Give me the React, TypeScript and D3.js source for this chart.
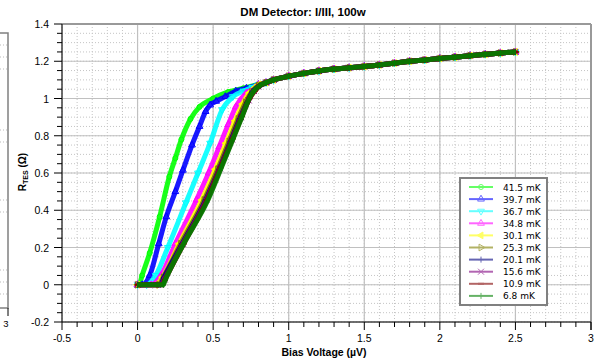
import { useMemo } from 'react';
import * as d3 from 'd3';

type Pt = [number, number];

// superconducting-to-normal transitions (V in µV, R in Ω)
const t41_5: Pt[] = [[0, 0], [0.01, 0], [0.03, 0.05], [0.08, 0.17], [0.146, 0.365], [0.21, 0.58], [0.25, 0.68], [0.29, 0.78], [0.35, 0.89], [0.41, 0.955], [0.5, 1.0], [0.6, 1.035], [0.7, 1.055], [0.8, 1.075]];
const t39_7: Pt[] = [[0, 0], [0.03, 0], [0.08, 0.05], [0.14, 0.22], [0.19, 0.365], [0.25, 0.5], [0.3, 0.615], [0.36, 0.75], [0.41, 0.85], [0.45, 0.93], [0.48, 0.965], [0.52, 0.985], [0.58, 1.01], [0.65, 1.04], [0.72, 1.055], [0.8, 1.075]];
const t36_7: Pt[] = [[0, 0], [0.06, 0], [0.12, 0.05], [0.2, 0.2], [0.32, 0.44], [0.4, 0.6], [0.48, 0.76], [0.56, 0.94], [0.63, 1.01], [0.7, 1.04], [0.76, 1.06], [0.8, 1.075]];
const t34_8: Pt[] = [[0, 0], [0.09, 0], [0.155, 0.05], [0.25, 0.22], [0.39, 0.455], [0.47, 0.6], [0.54, 0.74], [0.6, 0.86], [0.65, 0.955], [0.72, 1.03], [0.78, 1.06], [0.8, 1.075]];
const t30_1: Pt[] = [[0, 0], [0.12, 0], [0.165, 0.04], [0.275, 0.22], [0.425, 0.455], [0.515, 0.62], [0.585, 0.76], [0.645, 0.88], [0.695, 0.97], [0.74, 1.03], [0.78, 1.06], [0.8, 1.075]];
const t25_3: Pt[] = [[0, 0], [0.14, 0], [0.17, 0.04], [0.285, 0.22], [0.44, 0.455], [0.53, 0.62], [0.605, 0.77], [0.665, 0.89], [0.715, 0.98], [0.755, 1.035], [0.8, 1.07]];
const t20_1: Pt[] = [[0, 0], [0.15, 0], [0.175, 0.04], [0.295, 0.22], [0.45, 0.455], [0.54, 0.62], [0.615, 0.77], [0.675, 0.89], [0.725, 0.98], [0.76, 1.035], [0.8, 1.065]];
const t15_6: Pt[] = [[0, 0], [0.155, 0], [0.178, 0.03], [0.3, 0.22], [0.455, 0.455], [0.545, 0.625], [0.625, 0.78], [0.685, 0.9], [0.735, 0.99], [0.77, 1.04], [0.8, 1.065]];
const t10_9: Pt[] = [[0, 0], [0.165, 0], [0.18, 0.025], [0.305, 0.22], [0.46, 0.455], [0.55, 0.63], [0.63, 0.785], [0.69, 0.905], [0.74, 1.0], [0.775, 1.04], [0.81, 1.07]];
const t6_8: Pt[] = [[0, 0], [0.17, 0], [0.18, 0.02], [0.305, 0.22], [0.465, 0.455], [0.555, 0.63], [0.635, 0.79], [0.695, 0.91], [0.745, 1.01], [0.775, 1.045], [0.81, 1.07]];

// normal branch, all temperatures lie on top of each other here
const normalBranch: Pt[] = [[0.85, 1.085], [0.9, 1.1], [1.0, 1.12], [1.1, 1.135], [1.2, 1.148], [1.3, 1.158], [1.4, 1.165], [1.5, 1.172], [1.6, 1.18], [1.7, 1.19], [1.8, 1.2], [1.9, 1.207], [2.0, 1.215], [2.1, 1.222], [2.2, 1.23], [2.3, 1.237], [2.4, 1.244], [2.5, 1.25]];

const temps = ['41.5 mK', '39.7 mK', '36.7 mK', '34.8 mK', '30.1 mK', '25.3 mK', '20.1 mK', '15.6 mK', '10.9 mK', '6.8 mK'];
const transitions = [t41_5, t39_7, t36_7, t34_8, t30_1, t25_3, t20_1, t15_6, t10_9, t6_8];
const colors = ['#00ff00', '#0000ff', '#00ffff', '#ff00ff', '#ffff00', '#808000', '#000080', '#800080', '#800000', '#008000'];
const markers = ['circle', 'triUp', 'triDown', 'triUp', 'triLeft', 'triRight', 'plus', 'cross', 'dash', 'vbar'];

const xTicks = [-0.5, 0, 0.5, 1, 1.5, 2, 2.5, 3];
const yTicks = [-0.2, 0, 0.2, 0.4, 0.6, 0.8, 1, 1.2, 1.4];

const W = 599;
const H = 361;
const M = { left: 62, right: 591, top: 24, bottom: 322 };

function Marker({ kind, x, y, color, s = 3 }: { kind: string; x: number; y: number; color: string; s?: number }) {
  const tri = d3.symbol(d3.symbolTriangle, s * s * 2.2)() as string;
  const common = { stroke: color, strokeWidth: 1 };
  switch (kind) {
    case 'circle':
      return <circle cx={x} cy={y} r={s - 0.5} fill="none" {...common} />;
    case 'triUp':
      return <path d={tri} transform={`translate(${x},${y})`} fill="none" {...common} />;
    case 'triDown':
      return <path d={tri} transform={`translate(${x},${y}) rotate(180)`} fill="none" {...common} />;
    case 'triLeft':
      return <path d={tri} transform={`translate(${x},${y}) rotate(-90)`} fill={color} {...common} />;
    case 'triRight':
      return <path d={tri} transform={`translate(${x},${y}) rotate(90)`} fill="none" {...common} />;
    case 'plus':
      return <path d={`M${x - s},${y}H${x + s}M${x},${y - s}V${y + s}`} fill="none" {...common} />;
    case 'cross':
      return <path d={`M${x - s},${y - s}L${x + s},${y + s}M${x - s},${y + s}L${x + s},${y - s}`} fill="none" {...common} />;
    case 'dash':
      return <path d={`M${x - s},${y}H${x + s}`} fill="none" stroke={color} strokeWidth={2} />;
    default:
      return <path d={`M${x},${y - s}V${y + s}`} fill="none" {...common} />;
  }
}

export default function App() {
  const x = d3.scaleLinear().domain([-0.5, 3]).range([M.left, M.right]);
  const y = d3.scaleLinear().domain([-0.2, 1.4]).range([M.bottom, M.top]);

  const series = useMemo(
    () => transitions.map((t, i) => ({ name: temps[i], color: colors[i], marker: markers[i], pts: [...t, ...normalBranch] })),
    [],
  );

  const line = d3
    .line<Pt>()
    .x((d) => x(d[0]))
    .y((d) => y(d[1]))
    .curve(d3.curveMonotoneX);

  const xMinor = d3.range(-5, 31).map((i) => i / 10);
  const yMinor = d3.range(-4, 29).map((i) => i / 20);

  const legX = 460;
  const legY = 178;
  const rowH = 12.1;

  return (
    <svg width={W} height={H} style={{ position: 'absolute', left: 0, top: 0, background: '#fff' }}>
      {/* neighbouring panel edge on the left */}
      <g>
        <path d="M0,33H8V308H0" fill="none" stroke="#808080" strokeWidth={1.5} />
        <path d="M8,308V316" stroke="#000" />
        {[45, 57, 69, 130, 142, 200, 212, 270, 282, 294].map((gy) => (
          <line key={gy} x1={0} x2={7} y1={gy} y2={gy} stroke="#bbb" strokeDasharray="1,2" />
        ))}
        <text x={6} y={327} fontFamily="Liberation Sans, Arial" fontSize={9.5} textAnchor="middle">3</text>
      </g>

      {/* minor grid */}
      {xMinor.map((v) => (
        <line key={'xm' + v} x1={x(v)} x2={x(v)} y1={M.top} y2={M.bottom} stroke="#c4c4c4" strokeDasharray="1,2" />
      ))}
      {yMinor.map((v) => (
        <line key={'ym' + v} x1={M.left} x2={M.right} y1={y(v)} y2={y(v)} stroke="#c4c4c4" strokeDasharray="1,2" />
      ))}
      {/* major grid */}
      {xTicks.map((v) => (
        <line key={'xg' + v} x1={x(v)} x2={x(v)} y1={M.top} y2={M.bottom} stroke="#c0c0c0" strokeWidth={1.2} />
      ))}
      {yTicks.map((v) => (
        <line key={'yg' + v} x1={M.left} x2={M.right} y1={y(v)} y2={y(v)} stroke="#c0c0c0" strokeWidth={1.2} />
      ))}

      {/* frame */}
      <line x1={M.left} x2={M.right} y1={M.top} y2={M.top} stroke="#999" strokeWidth={2} />
      <line x1={M.right} x2={M.right} y1={M.top} y2={M.bottom} stroke="#999" strokeWidth={2} />

      {/* data */}
      {series.map((s) => (
        <g key={s.name}>
          <path d={line(s.pts) ?? ''} fill="none" stroke={s.color} strokeWidth={5} strokeOpacity={0.9} />
          {s.pts.map((p, j) => (
            <Marker key={j} kind={s.marker} x={x(p[0])} y={y(p[1])} color={s.color} s={3} />
          ))}
        </g>
      ))}

      {/* axes */}
      <line x1={M.left} x2={M.left} y1={M.top} y2={M.bottom} stroke="#000" />
      <line x1={M.left} x2={M.right} y1={M.bottom} y2={M.bottom} stroke="#000" />
      {yMinor.map((v) => (
        <line key={'yt' + v} x1={M.left - (yTicks.some((t) => Math.abs(t - v) < 1e-9) ? 8 : 5)} x2={M.left} y1={y(v)} y2={y(v)} stroke="#000" />
      ))}
      {xMinor.map((v) => (
        <line key={'xt' + v} x1={x(v)} x2={x(v)} y1={M.bottom} y2={M.bottom + (xTicks.some((t) => Math.abs(t - v) < 1e-9) ? 8 : 5)} stroke="#000" />
      ))}
      <line x1={x(3)} x2={x(3)} y1={M.bottom} y2={M.bottom + 8} stroke="#000" />
      <g fontFamily="Liberation Sans, Arial, sans-serif" fontSize={10.5} fill="#000">
        {yTicks.map((v) => (
          <text key={'yl' + v} x={49} y={y(v) + 4} textAnchor="end">{+v.toFixed(1)}</text>
        ))}
        {xTicks.map((v) => (
          <text key={'xl' + v} x={x(v)} y={342} textAnchor="middle">{+v.toFixed(1)}</text>
        ))}
      </g>

      {/* titles */}
      <g fontFamily="Liberation Sans, Arial, sans-serif" fontWeight="bold" fill="#000">
        <text x={303} y={16} fontSize={11.5} textAnchor="middle">DM Detector: I/III, 100w</text>
        <text x={324} y={356} fontSize={10.5} textAnchor="middle">Bias Voltage (µV)</text>
        <text transform="translate(26,172) rotate(-90)" fontSize={10} textAnchor="middle">
          R<tspan fontSize={7} dy={2}>TES</tspan>
          <tspan dy={-2}> (Ω)</tspan>
        </text>
      </g>

      {/* legend */}
      <rect x={legX} y={legY} width={87} height={127} fill="#fff" stroke="#808080" strokeWidth={2} />
      {series.map((s, i) => {
        const ry = legY + 9 + i * rowH;
        return (
          <g key={'lg' + s.name} opacity={0.6}>
            <line x1={469} x2={493} y1={ry} y2={ry} stroke={s.color} strokeWidth={2} />
            <Marker kind={s.marker} x={481} y={ry} color={s.color} s={3} />
          </g>
        );
      })}
      <g fontFamily="DejaVu Sans, Verdana, sans-serif" fontSize={9} fill="#000">
        {series.map((s, i) => (
          <text key={'lt' + s.name} x={503} y={legY + 12.5 + i * rowH}>{s.name}</text>
        ))}
      </g>
    </svg>
  );
}
